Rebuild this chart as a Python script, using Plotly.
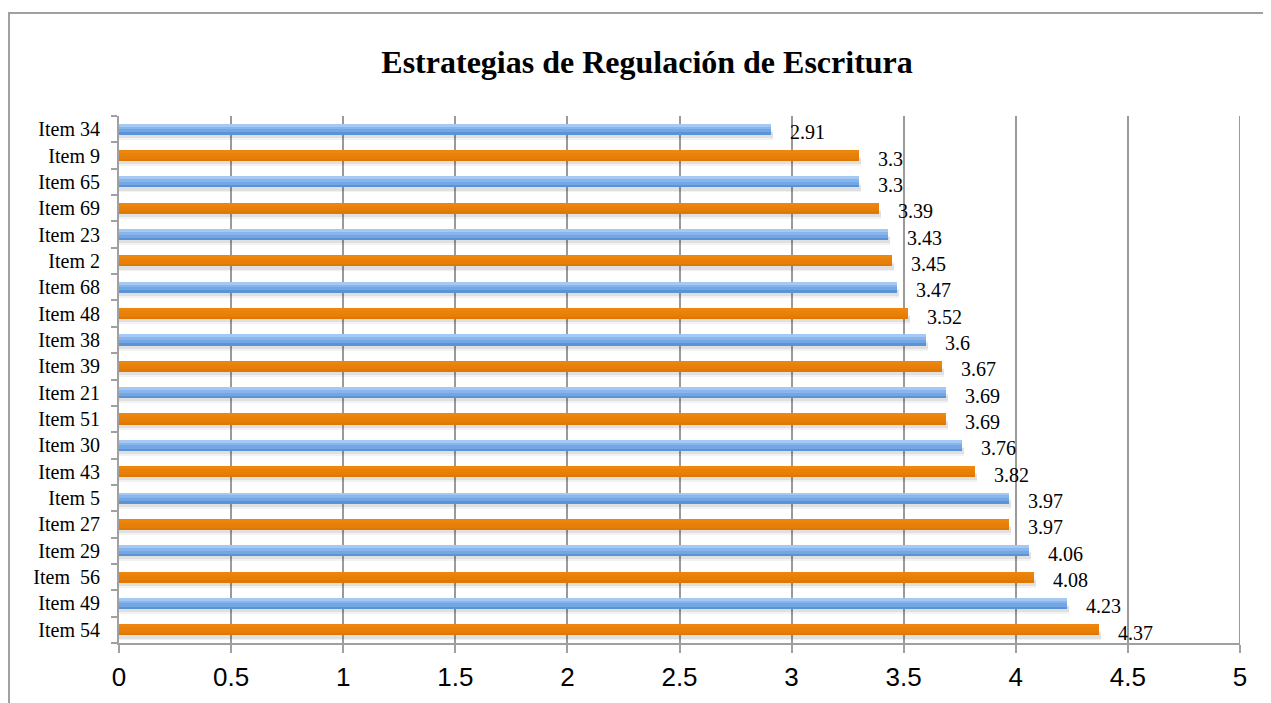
import plotly.graph_objects as go

# data, listed top to bottom as in the chart
items = [
    "Item 34", "Item 9", "Item 65", "Item 69", "Item 23", "Item 2", "Item 68",
    "Item 48", "Item 38", "Item 39", "Item 21", "Item 51", "Item 30", "Item 43",
    "Item 5", "Item 27", "Item 29", "Item  56", "Item 49", "Item 54",
]
scores = [
    2.91, 3.3, 3.3, 3.39, 3.43, 3.45, 3.47, 3.52, 3.6, 3.67,
    3.69, 3.69, 3.76, 3.82, 3.97, 3.97, 4.06, 4.08, 4.23, 4.37,
]
x_ticks = [0, 0.5, 1, 1.5, 2, 2.5, 3, 3.5, 4, 4.5, 5]

# plotly stacks categories bottom-up, so reverse
cats = items[::-1]
vals = scores[::-1]
is_orange = [i % 2 == 0 for i in range(len(cats))]

SERIF = "Liberation Serif, Times New Roman, serif"
GRID = "#9a9a9a"

# gradient layers (bottom edge, top edge, blue shade, orange shade)
layers = [
    (-0.21, 0.21, "#5a93d6", "#e07805"),
    (-0.12, 0.21, "#72a6e4", "#e67e07"),
    (0.00, 0.21, "#88b6ec", "#ea8209"),
    (0.10, 0.21, "#a3c9f4", "#ec860d"),
]

fig = go.Figure()

# soft drop shadow under each bar
for lo, hi, alpha in [(-0.40, -0.05, 0.05), (-0.33, -0.10, 0.07)]:
    fig.add_trace(
        go.Bar(
            x=[v + 0.008 for v in vals],
            y=cats,
            orientation="h",
            offset=lo,
            width=hi - lo,
            marker=dict(color=f"rgba(0,0,0,{alpha})", line=dict(width=0)),
            hoverinfo="skip",
            showlegend=False,
        )
    )

for lo, hi, blue, orange in layers:
    fig.add_trace(
        go.Bar(
            x=vals,
            y=cats,
            orientation="h",
            offset=lo,
            width=hi - lo,
            marker=dict(
                color=[orange if o else blue for o in is_orange],
                line=dict(width=0),
            ),
            hoverinfo="skip",
            showlegend=False,
        )
    )

for cat, val in zip(cats, vals):
    fig.add_annotation(
        x=val,
        y=cat,
        text=f"{val:g}",
        showarrow=False,
        xanchor="left",
        xshift=17,
        yshift=-3,
        font=dict(family=SERIF, size=20, color="#000000"),
    )

# last gridline sits on the range edge, plotly skips it
fig.add_shape(
    type="line",
    xref="x",
    yref="paper",
    x0=x_ticks[-1],
    x1=x_ticks[-1],
    y0=0,
    y1=1,
    line=dict(color=GRID, width=2),
    layer="below",
)

# outer chart frame (cropped at right and bottom in the original)
fig.add_shape(
    type="rect",
    xref="paper",
    yref="paper",
    x0=-0.0981,
    x1=1.04,
    y0=-0.13,
    y1=1.1954,
    line=dict(color="#a0a0a0", width=2),
    fillcolor="rgba(0,0,0,0)",
    layer="below",
)

fig.update_layout(
    width=1263,
    height=695,
    barmode="overlay",
    bargap=0,
    paper_bgcolor="#ffffff",
    plot_bgcolor="#ffffff",
    margin=dict(l=111, r=31, t=108, b=60),
    title=dict(
        text="<b>Estrategias de Regulación de Escritura</b>",
        x=0.506,
        xref="container",
        xanchor="center",
        y=0.923,
        yref="container",
        yanchor="middle",
        font=dict(family=SERIF, size=32, color="#000000"),
    ),
    xaxis=dict(
        range=[0, 5],
        tickvals=x_ticks,
        ticktext=[f"{t:g}" for t in x_ticks],
        showgrid=True,
        gridcolor=GRID,
        gridwidth=2,
        zeroline=False,
        showline=True,
        linecolor="#a0a0a0",
        linewidth=2,
        ticks="outside",
        ticklen=8,
        tickwidth=2,
        tickcolor="#a0a0a0",
        ticklabelstandoff=2,
        tickfont=dict(family="Liberation Sans, Arial, sans-serif", size=26, color="#000000"),
        automargin=False,
        fixedrange=True,
    ),
    yaxis=dict(
        type="category",
        categoryorder="array",
        categoryarray=cats,
        range=[-0.5, len(cats) - 0.5],
        showgrid=False,
        zeroline=False,
        showline=True,
        linecolor="#a0a0a0",
        linewidth=2,
        ticks="outside",
        tickson="boundaries",
        ticklen=6,
        tickwidth=2,
        tickcolor="#a0a0a0",
        ticklabelstandoff=13,
        tickfont=dict(family=SERIF, size=20, color="#000000"),
        automargin=False,
        fixedrange=True,
    ),
)

fig.write_html("out.html")
